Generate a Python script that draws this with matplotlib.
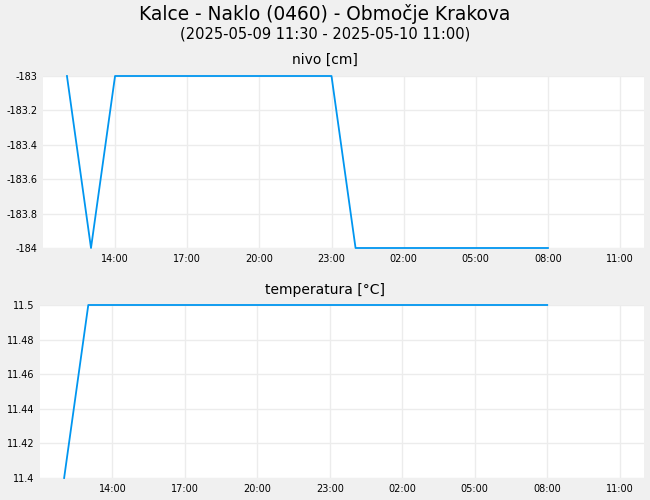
import matplotlib
matplotlib.use('Agg')
import matplotlib.pyplot as plt
import matplotlib.dates as mdates
import numpy as np
from datetime import datetime, timedelta

# hourly readings, 2025-05-09 12:00 .. 2025-05-10 08:00
start = datetime(2025, 5, 9, 12, 0)
nivo = [-183, -184, -183, -183, -183, -183, -183, -183, -183, -183, -183, -183,
        -184, -184, -184, -184, -184, -184, -184, -184, -184]
temperatura = [11.4, 11.5, 11.5, 11.5, 11.5, 11.5, 11.5, 11.5, 11.5, 11.5, 11.5,
               11.5, 11.5, 11.5, 11.5, 11.5, 11.5, 11.5, 11.5, 11.5, 11.5]
times = [start + timedelta(hours=i) for i in range(len(nivo))]

title = 'Kalce - Naklo (0460) - Območje Krakova'
subtitle = '(2025-05-09 11:30 - 2025-05-10 11:00)'
x_min = datetime(2025, 5, 9, 11, 0)
x_max = datetime(2025, 5, 10, 12, 0)
x_ticks = [datetime(2025, 5, 9, 14, 0) + timedelta(hours=3 * i) for i in range(8)]

bg = '#f0f0f0'
line_color = '#0096f0'

fig = plt.figure(figsize=(6.5, 5), dpi=100, facecolor=bg)
fig.text(0.5, 0.972, title, ha='center', va='center', fontsize=13.4)
fig.text(0.5, 0.932, subtitle, ha='center', va='center', fontsize=10.5)
fig.text(0.5, 0.880, 'nivo [cm]', ha='center', va='center', fontsize=10)
fig.text(0.5, 0.420, 'temperatura [°C]', ha='center', va='center', fontsize=10)

ax1 = fig.add_axes([0.066, 0.504, 0.925, 0.344])
ax2 = fig.add_axes([0.0615, 0.044, 0.929, 0.346])

def style(ax, ylim, yticks):
    ax.set_facecolor('white')
    for s in ax.spines.values():
        s.set_visible(False)
    ax.set_xlim(x_min, x_max)
    ax.set_ylim(*ylim)
    ax.set_yticks(yticks)
    ax.set_yticklabels(['%g' % v for v in yticks])
    ax.set_xticks(x_ticks)
    ax.xaxis.set_major_formatter(mdates.DateFormatter('%H:%M'))
    ax.tick_params(length=0, labelsize=7, pad=4)
    ax.grid(True, color='#ececec', linewidth=1)
    ax.set_axisbelow(True)

style(ax1, (-184, -183), [-184, -183.8, -183.6, -183.4, -183.2, -183])
style(ax2, (11.4, 11.5), [11.4, 11.42, 11.44, 11.46, 11.48, 11.5])

ax1.plot(times, nivo, color=line_color, linewidth=1.3, clip_on=False)
ax2.plot(times, temperatura, color=line_color, linewidth=1.3, clip_on=False)

fig.savefig('out.png', dpi=100, facecolor=bg)
